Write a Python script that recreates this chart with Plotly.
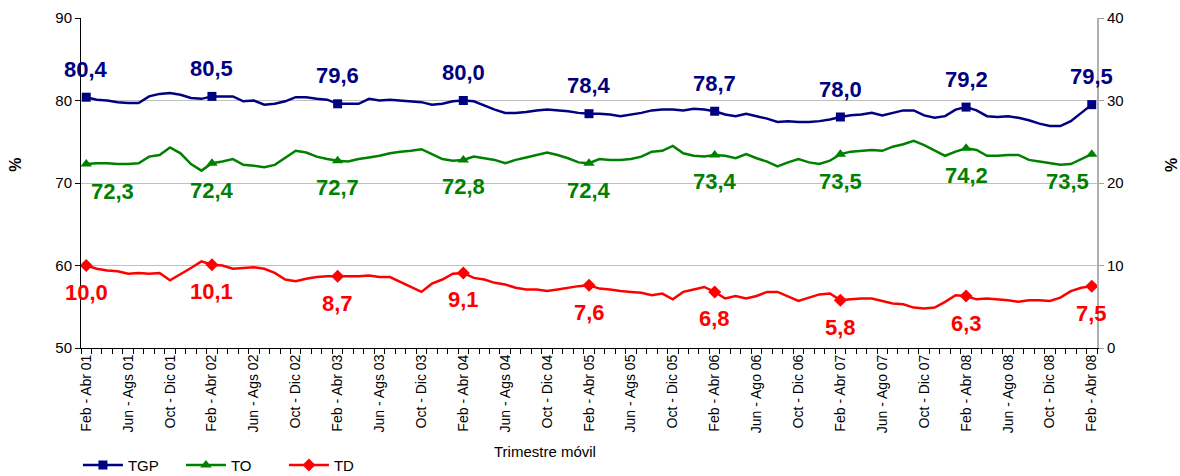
import plotly.graph_objects as go

# ---------------- data ----------------
tick_labels = [
    "Feb - Abr 01", "Jun - Ags 01", "Oct - Dic 01",
    "Feb - Abr 02", "Jun - Ags 02", "Oct - Dic 02",
    "Feb - Abr 03", "Jun - Ags 03", "Oct - Dic 03",
    "Feb - Abr 04", "Jun - Ags 04", "Oct - Dic 04",
    "Feb - Abr 05", "Jun - Ags 05", "Oct - Dic 05",
    "Feb - Abr 06", "Jun - Ago 06", "Oct - Dic 06",
    "Feb - Abr 07", "Jun - Ago 07", "Oct - Dic 07",
    "Feb - Abr 08", "Jun - Ago 08", "Oct - Dic 08",
    "Feb - Abr 08",
]

tgp = [
    80.4, 80.1, 80.0, 79.8, 79.7, 79.7, 80.5, 80.8, 80.9, 80.7, 80.3, 80.2,
    80.5, 80.5, 80.5, 79.9, 80.0, 79.5, 79.6, 79.9, 80.4, 80.4, 80.2, 80.1,
    79.6, 79.6, 79.6, 80.2, 80.0, 80.1, 80.0, 79.9, 79.8, 79.5, 79.6, 79.9,
    80.0, 79.9, 79.4, 78.9, 78.5, 78.5, 78.6, 78.8, 78.9, 78.8, 78.7, 78.5,
    78.4, 78.4, 78.3, 78.1, 78.3, 78.5, 78.8, 78.9, 78.9, 78.8, 79.0, 78.9,
    78.7, 78.3, 78.1, 78.4, 78.1, 77.8, 77.4, 77.5, 77.4, 77.4, 77.5, 77.7,
    78.0, 78.2, 78.3, 78.5, 78.2, 78.5, 78.8, 78.8, 78.2, 77.9, 78.1, 78.9,
    79.2, 78.8, 78.1, 78.0, 78.1, 77.9, 77.6, 77.2, 76.9, 76.9, 77.5, 78.5,
    79.5,
]

to = [
    72.3, 72.4, 72.4, 72.3, 72.3, 72.4, 73.2, 73.4, 74.3, 73.6, 72.3, 71.5,
    72.4, 72.6, 72.9, 72.2, 72.1, 71.9, 72.2, 73.0, 73.9, 73.7, 73.2, 72.9,
    72.7, 72.6, 72.9, 73.1, 73.3, 73.6, 73.8, 73.9, 74.1, 73.5, 72.9, 72.7,
    72.8, 73.2, 73.0, 72.8, 72.4, 72.8, 73.1, 73.4, 73.7, 73.4, 73.0, 72.5,
    72.4, 72.9, 72.8, 72.8, 72.9, 73.2, 73.8, 73.9, 74.5, 73.6, 73.3, 73.2,
    73.4, 73.3, 73.0, 73.5, 73.0, 72.6, 72.0, 72.5, 72.9, 72.5, 72.3, 72.7,
    73.5, 73.8, 73.9, 74.0, 73.9, 74.4, 74.7, 75.1, 74.6, 73.9, 73.3, 73.8,
    74.2, 74.0, 73.3, 73.3, 73.4, 73.4, 72.8, 72.6, 72.4, 72.2, 72.3, 72.9,
    73.5,
]

td = [
    10.0, 9.6, 9.4, 9.3, 9.0, 9.1, 9.0, 9.1, 8.2, 8.9, 9.7, 10.5,
    10.1, 10.0, 9.6, 9.7, 9.8, 9.6, 9.1, 8.3, 8.1, 8.4, 8.6, 8.7,
    8.7, 8.7, 8.7, 8.8, 8.6, 8.6, 8.0, 7.4, 6.8, 7.8, 8.3, 9.0,
    9.1, 8.5, 8.3, 7.9, 7.7, 7.3, 7.1, 7.1, 6.9, 7.1, 7.3, 7.5,
    7.6, 7.2, 7.1, 6.9, 6.8, 6.7, 6.4, 6.6, 5.9, 6.8, 7.1, 7.4,
    6.8, 6.0, 6.3, 6.0, 6.3, 6.8, 6.8, 6.2, 5.7, 6.1, 6.5, 6.6,
    5.8, 5.9, 6.0, 6.0, 5.7, 5.4, 5.3, 4.9, 4.8, 4.9, 5.6, 6.4,
    6.3, 5.9, 6.0, 5.9, 5.8, 5.6, 5.8, 5.8, 5.7, 6.1, 6.9, 7.3,
    7.5,
]

marker_step = 12   # a marker + label every Feb-Abr
tick_step = 4

# ---------------- style ----------------
FONT = "Liberation Sans"
C_TGP = "#000080"
C_TO = "#008000"
C_TD = "#FF0000"

n = len(tgp)
x = list(range(n))
mk = list(range(0, n, marker_step))

fig = go.Figure()

series = [
    ("TGP", tgp, C_TGP, "square", 9, "y", 28),
    ("TO", to, C_TO, "triangle-up", 10, "y", -27),
    ("TD", td, C_TD, "diamond", 10, "y2", -27),
]

for name, vals, col, sym, msz, yax, _ in series:
    fig.add_trace(go.Scatter(x=x, y=vals, mode="lines", yaxis=yax,
                             line=dict(color=col, width=2.5),
                             showlegend=False, hoverinfo="skip"))
    fig.add_trace(go.Scatter(x=[x[i] for i in mk], y=[vals[i] for i in mk],
                             mode="markers", yaxis=yax,
                             marker=dict(color=col, symbol=sym, size=msz),
                             showlegend=False))
    fig.add_trace(go.Scatter(x=[None], y=[None], mode="lines+markers", name=name,
                             yaxis=yax,
                             line=dict(color=col, width=2.5),
                             marker=dict(color=col, symbol=sym, size=msz)))

annotations = []
for name, vals, col, sym, msz, yax, ysh in series:
    for k, i in enumerate(mk):
        xs = 0
        if name == "TO" and k == 0:
            xs = 26
        if name == "TO" and k == len(mk) - 1:
            xs = -24
        annotations.append(dict(
            x=x[i], y=vals[i], xref="x", yref=yax, yshift=ysh, xshift=xs,
            text=f"{vals[i]:.1f}".replace(".", ","), showarrow=False,
            xanchor="center", yanchor="middle",
            font=dict(family=FONT, size=22, color=col, weight="bold")))

annotations += [
    dict(text="Trimestre móvil", x=0.457, y=-0.315, xref="paper", yref="paper",
         showarrow=False, xanchor="center", yanchor="middle",
         font=dict(family=FONT, size=15, color="#000000")),
    dict(text="%", x=-0.064, y=0.555, xref="paper", yref="paper", textangle=-90,
         showarrow=False, xanchor="center", yanchor="middle",
         font=dict(family=FONT, size=16, color="#000000", weight="bold")),
    dict(text="%", x=1.074, y=0.555, xref="paper", yref="paper", textangle=-90,
         showarrow=False, xanchor="center", yanchor="middle",
         font=dict(family=FONT, size=16, color="#000000", weight="bold")),
]

fig.update_layout(
    width=1180, height=476,
    margin=dict(l=81, r=83, t=18, b=128, autoexpand=False),
    paper_bgcolor="white", plot_bgcolor="white",
    font=dict(family=FONT, color="#000000"),
    annotations=annotations,
    showlegend=True,
    legend=dict(orientation="h", x=-0.003, xanchor="left", y=-0.305, yanchor="top",
                font=dict(family=FONT, size=15, color="#000000"),
                entrywidth=48, entrywidthmode="pixels",
                bgcolor="rgba(0,0,0,0)", itemwidth=40, tracegroupgap=0),
    xaxis=dict(
        range=[-0.5, n - 0.5], tickmode="array",
        tickvals=list(range(0, n, tick_step)), ticktext=tick_labels,
        tickangle=-90, tickfont=dict(family=FONT, size=14, color="#000000"),
        ticks="", showgrid=False, zeroline=False,
        showline=True, linecolor="#000000", linewidth=1, automargin=False,
        minor=dict(tickmode="linear", tick0=-0.5, dtick=1, ticks="outside",
                   ticklen=5, tickcolor="#000000", tickwidth=1, showgrid=False),
    ),
    yaxis=dict(
        range=[50, 90], tickmode="linear", tick0=50, dtick=10,
        ticks="outside", ticklen=5, tickcolor="#000000",
        tickfont=dict(family=FONT, size=15, color="#000000"),
        showgrid=True, gridcolor="#C0C0C0", gridwidth=1, zeroline=False,
        showline=True, linecolor="#000000", linewidth=1, automargin=False,
    ),
    yaxis2=dict(
        range=[0, 40], tickmode="linear", tick0=0, dtick=10, overlaying="y",
        side="right", ticks="outside", ticklen=5, tickcolor="#A0A0A0",
        tickfont=dict(family=FONT, size=15, color="#000000"),
        showgrid=False, zeroline=False,
        showline=True, linecolor="#B0B0B0", linewidth=2, automargin=False,
    ),
)

fig.write_html("out.html",
               config={"displayModeBar": False},
               post_script="document.body.style.margin='0';"
                           "document.body.style.overflow='hidden';")
